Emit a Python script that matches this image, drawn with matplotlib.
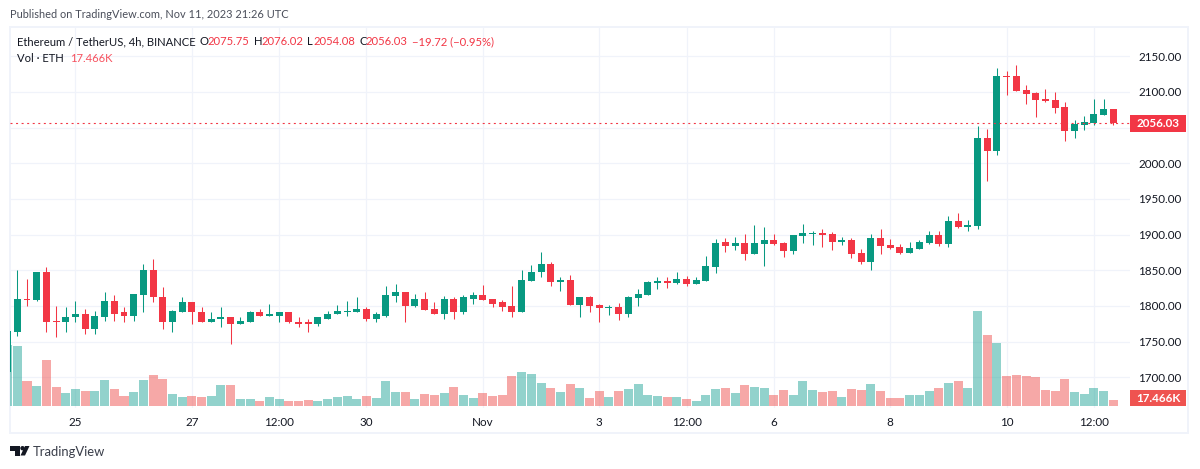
import matplotlib
matplotlib.use("Agg")
import matplotlib.pyplot as plt
from matplotlib.patches import Rectangle, Polygon, Ellipse

W, H = 1200, 469
plt.rcParams['font.family'] = ['Lato', 'DejaVu Sans']

opens = [1764,1810,1809,1847,1779,1777,1784,1789,1768,1785,1807,1791,1786,1816,1850,1813,1778,1792,1805,1792,
         1777,1781,1784,1774,1778,1791,1786,1786,1792,1778,1777,1774,1782,1788,1792,1792,1796,1782,1786,1814,
         1820,1800,1810,1796,1789,1810,1791,1810,1816,1810,1805,1800,1792,1835,1847,1859,1834,1836,1801,1812,
         1801,1797,1798,1789,1811,1815,1832,1835,1832,1838,1831,1835,1855,1890,1884,1888,1873,1887,1892,1888,
         1877,1898,1901,1902,1901,1890,1892,1874,1862,1895,1885,1882,1874,1880,1888,1899.5,1887,1919,1911,1912,
         2035.5,2017,2122,2122,2102.7,2098.5,2090,2088.7,2079,2045,2053.6,2056.5,2067.7,2075.75]
closes = [1810,1809,1847,1778,1777,1785,1789,1768,1786,1807,1789,1786,1817,1850,1812,1778,1793,1805,1791,1777,
          1782,1784,1774,1779,1791,1786,1788,1792,1777,1775,1774,1784,1789,1793,1793,1796,1782,1788,1816,1820,
          1800,1810,1795,1789,1810,1791,1812,1816,1809,1803,1799,1792,1837,1848,1859,1834,1837,1801,1812,1800,
          1797,1798,1789,1813,1817,1834,1835,1832,1838,1831,1836,1856,1888,1884,1888,1873,1888,1892.5,1887,1877,
          1899,1902,1902,1899,1890,1892,1873,1862,1895,1884,1881,1874,1881,1890,1899.5,1887,1919,1911,1913.5,2035.5,
          2017,2122,2121,2101,2097,2088.7,2087,2077.5,2045,2055,2058,2069,2076,2056.03]
highs = [1851,1838,1847,1855,1800,1798,1807,1796,1793,1819,1816,1798,1817,1859,1866,1826,1795,1812,1805,1798,
         1792,1798,1785,1785,1793,1796,1803,1792,1792,1784,1782,1785,1793,1802,1807,1812,1799,1792,1828,1831,
         1820,1817,1820,1806,1814,1813,1816,1819,1830,1810,1809,1828,1851,1858,1876,1861,1841,1843,1812,1814,
         1803,1801,1804,1814,1824,1835,1841,1841,1848,1842,1841,1870,1894,1895,1897,1901,1913,1911,1901,1890,
         1899,1915,1905,1908,1904,1897,1895,1880,1901,1908,1894,1887,1890,1892.5,1905,1905,1926,1930,1920.5,2052,
         2048,2133.6,2129.4,2137.8,2109.7,2100,2104,2100,2086,2060.7,2066.3,2090,2090,2076.02]
lows = [1758,1800,1807,1763,1757,1764,1778,1761,1761,1779,1779,1777,1779,1792,1805,1768,1763,1791,1774,1777,
        1777,1771,1746,1774,1778,1786,1786,1777,1776,1771,1763,1772,1782,1788,1786,1792,1779,1778,1785,1806,
        1778,1798,1795,1788,1782,1782,1788,1803,1809,1798,1793,1784,1792,1835,1841,1828,1821,1801,1784,1791,
        1777,1787,1780,1785,1800,1815,1824,1825,1831,1828,1831,1835,1846,1876,1878,1864,1873,1856,1885,1869,
        1873,1888,1885,1883,1878,1885,1867,1859,1850,1873,1880,1873,1874,1880,1887,1884,1883,1909,1905,1908,
        1975,2011.6,2095.7,2101,2083,2065,2086,2070.5,2031,2035.4,2046.6,2053.6,2067.7,2054.08]
volumes = [175,73,58,134,55,38,49.5,44,44,76,49.5,29,41,76,90,79,35,26,29,26,
           29,61,61,20,20,14.5,26,20,14.5,14.5,17.5,14.5,20,26,29,20,29,23,73,41,
           41,20,35,32,38,55,32,23,38,29,32,87,99,93,67,52,41,64,52,23,
           44,26,44,49.5,64,32,29,26,26,20,14.5,32,49.5,52,38,61,55,52,32,46.5,
           32,73,46.5,41,44,26,49.5,46.5,64,44,23,23,32,32,44,52,67,73,52,276,
           207,183,87,90,87,84,46.5,44,79,41,35,52,44,17.466]
prev_volume = 178
prev_open = 1707
prev_close = 1765

price_ticks = [1700,1750,1800,1850,1900,1950,2000,2050,2100,2150]
price_labels = ['1700.00','1750.00','1800.00','1850.00','1900.00','1950.00','2000.00','','2100.00','2150.00']
time_tick_idx = [6,18,27,36,48,60,69,78,90,102,111]
time_tick_labels = ['25','27','12:00','30','Nov','3','12:00','6','8','10','12:00']

GREEN, RED = '#089981', '#F23645'
VGREEN, VRED = '#26a69a', '#ef5350'
GRID = '#f0f3fa'
INK = '#131722'
TICK_FS = 8.4
TEXT_FS = 8.15

fig = plt.figure(figsize=(W/100, H/100), dpi=100, facecolor='white')

def px_x(x): return x / W
def px_y(y): return 1 - y / H

# Outer frame, underneath the pane
fig.add_artist(Rectangle((px_x(10), px_y(433)), 1178/W, 406/H, transform=fig.transFigure,
                         fill=False, ec=GRID, lw=1.44, zorder=-5))

L, R, T, B = 10, 1130, 28, 408
ax = fig.add_axes([px_x(L), px_y(B), (R-L)/W, (B-T)/H], facecolor='none')
ax.set_xlim(-0.753, 114.72)
ax.set_ylim(1656.9, 2189.7)
for s in ax.spines.values():
    s.set_visible(False)
ax.set_axisbelow(True)
ax.grid(True, color=GRID, lw=0.9)

vax = ax.twinx()
vax.set_ylim(-5.82, 1100)
vax.axis('off')
vx = [-1] + list(range(len(volumes)))
vv = [prev_volume] + volumes
up = [True] + [c >= o for o, c in zip(opens, closes)]
vax.bar(vx, vv, width=0.93, color=[VGREEN if u else VRED for u in up], alpha=0.5, linewidth=0)
vax.set_xlim(ax.get_xlim())

cax = ax.twinx()
cax.set_ylim(ax.get_ylim())
cax.axis('off')
cax.set_xlim(ax.get_xlim())
xs = list(range(len(opens)))
colors = [GREEN if c >= o else RED for o, c in zip(opens, closes)]
wicks = cax.vlines(xs, lows, highs, colors=colors, lw=0.75)
wicks.set_snap(True)
cax.bar(xs, [abs(c-o) for o, c in zip(opens, closes)], bottom=[min(o, c) for o, c in zip(opens, closes)],
        width=0.72, color=colors, linewidth=0)
cax.bar([-1], [prev_close-prev_open], bottom=[prev_open], width=0.72, color=GREEN, linewidth=0)
last_line = cax.axhline(closes[-1], color=RED, lw=0.8, ls=(0, (1.8, 3.2)))
last_line.set_snap(True)

ax.yaxis.tick_right()
ax.set_yticks(price_ticks)
ax.set_yticklabels(price_labels, fontsize=TICK_FS, color=INK)
ax.set_xticks(time_tick_idx)
ax.set_xticklabels(time_tick_labels, fontsize=TICK_FS, color=INK)
ax.tick_params(axis='both', length=0)
ax.tick_params(axis='y', pad=5.8)
ax.tick_params(axis='x', pad=6.5)

def label(text, x, y, **kw):
    fig.text(px_x(x), px_y(y), text, va='center', ha=kw.pop('ha', 'left'), **kw)

# Value tags at the right of the pane
fig.add_artist(Rectangle((px_x(1130), px_y(132)), 56/W, 17/H, transform=fig.transFigure, color=RED, lw=0))
label(f'{closes[-1]:.2f}', 1158.5, 123.5, ha='center', color='white', fontsize=TICK_FS, fontweight='bold')
fig.add_artist(Rectangle((px_x(1130), px_y(406)), 56/W, 16/H, transform=fig.transFigure, color=VRED, lw=0))
label(f'{volumes[-1]:.3f}K', 1158.5, 398.5, ha='center', color='white', fontsize=TICK_FS, fontweight='bold')

# Header
label('Published on TradingView.com, Nov 11, 2023 21:26 UTC', 10, 14.5, color='#4a4e5a', fontsize=7.95)
label('Ethereum / TetherUS, 4h, BINANCE', 17, 41.5, color=INK, fontsize=TEXT_FS)
o_txt = [('O', 200, INK), (f'{opens[-1]:.2f}', 207.6, RED), ('H', 254, INK), (f'{highs[-1]:.2f}', 261, RED),
         ('L', 307, INK), (f'{lows[-1]:.2f}', 313.6, RED), ('C', 359, INK), (f'{closes[-1]:.2f}', 365.6, RED),
         ('\u221219.72 (\u22120.95%)', 412, RED)]
for t, x, c in o_txt:
    label(t, x, 41.5, color=c, fontsize=TEXT_FS)
label('Vol \u00b7 ETH', 17, 58.5, color=INK, fontsize=TEXT_FS)
label(f'{volumes[-1]:.3f}K', 70, 58.5, color='#F7525F', fontsize=TEXT_FS)

# Footer
def P(*pts):
    fig.add_artist(Polygon([(px_x(x), px_y(y)) for x, y in pts], closed=True, transform=fig.transFigure,
                           color=INK, lw=0))
P((10, 446), (20, 446), (20, 455.5), (15, 455.5), (15, 450.5), (10, 450.5))
P((25, 455.5), (29.5, 446), (25, 446), (20.5, 455.5))
fig.add_artist(Ellipse((px_x(22.5), px_y(448.2)), 4.4/W, 4.4/H, transform=fig.transFigure, color=INK, lw=0))
label('TradingView', 33, 451.5, color='#3a3e4a', fontsize=9.4)

fig.savefig('out.png', dpi=100, facecolor='white')
